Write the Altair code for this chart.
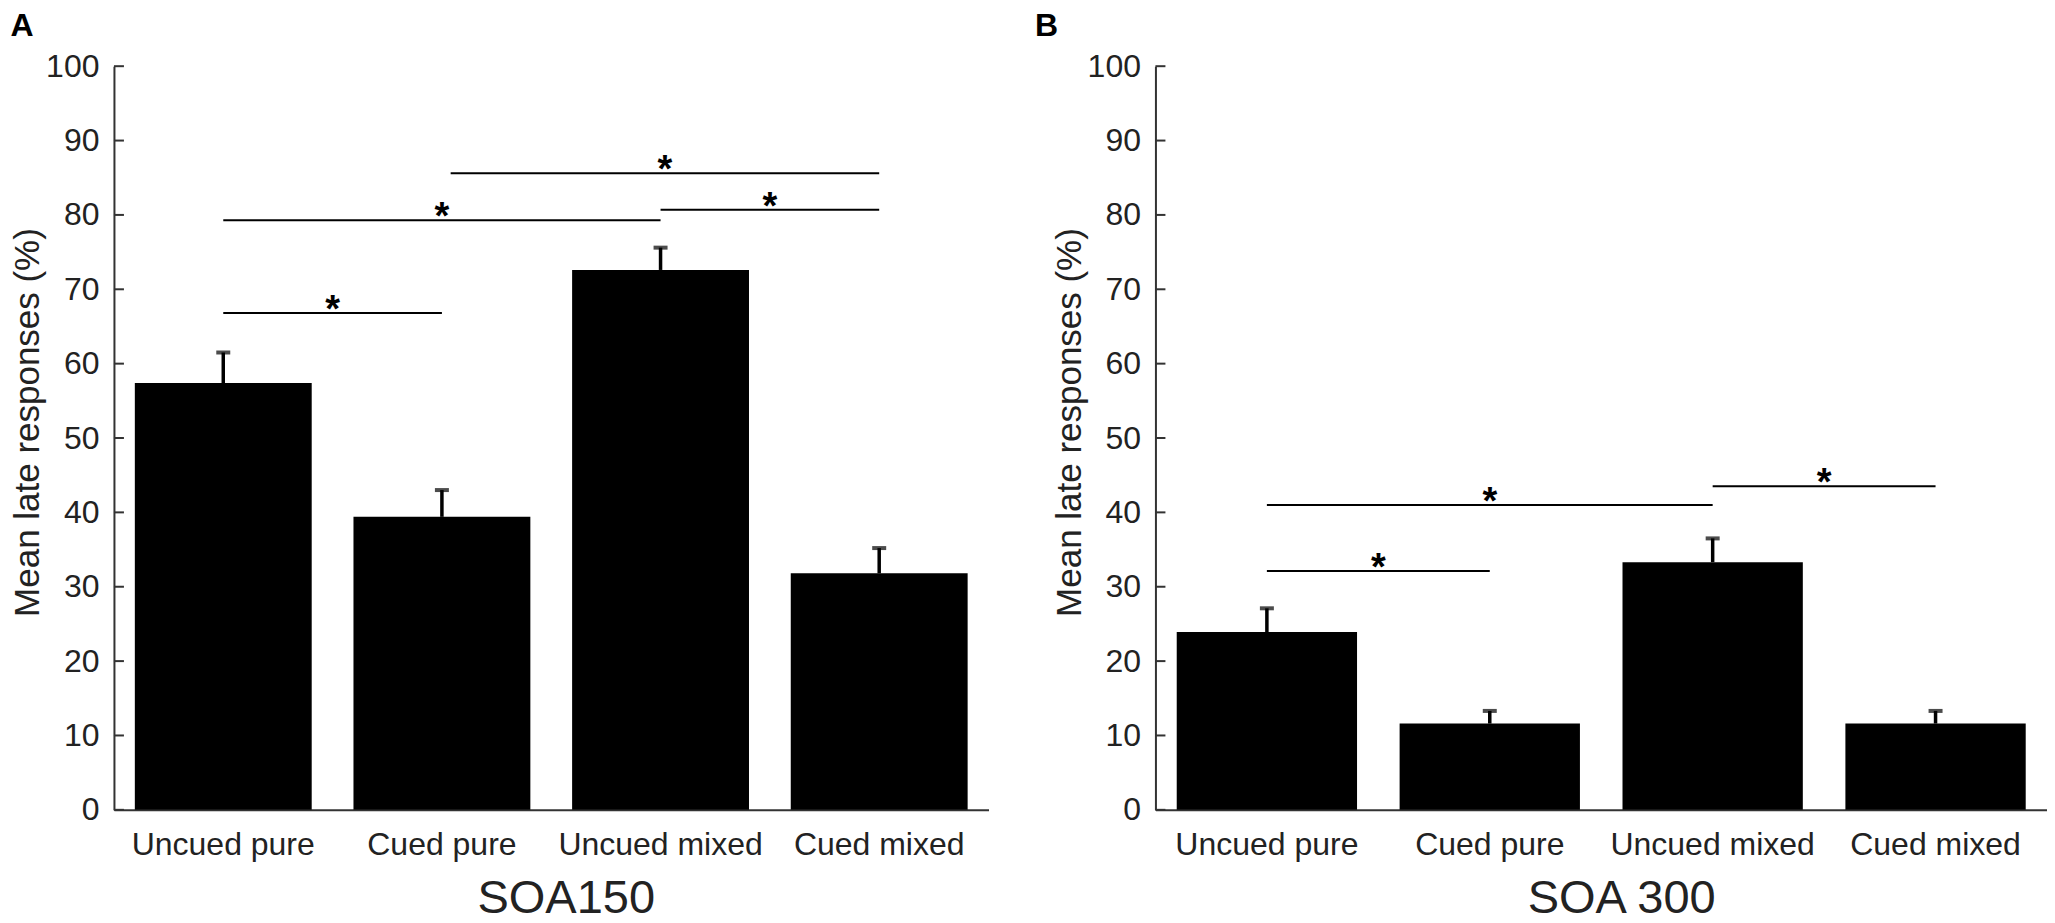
import altair as alt
import pandas as pd

FONT = "Liberation Sans"

categories = ["Uncued pure", "Cued pure", "Uncued mixed", "Cued mixed"]
y_ticks = [0, 10, 20, 30, 40, 50, 60, 70, 80, 90, 100]

# SOA150 panel
soa150_mean = [57.4, 39.4, 72.6, 31.8]
soa150_upper = [61.5, 43.0, 75.6, 35.2]
soa150_sig_from = [0, 0, 1.04, 2]
soa150_sig_to = [1, 2, 3, 3]
soa150_sig_level = [66.8, 79.3, 85.6, 80.7]

# SOA 300 panel
soa300_mean = [23.9, 11.6, 33.3, 11.6]
soa300_upper = [27.1, 13.3, 36.5, 13.3]
soa300_sig_from = [0, 0, 2]
soa300_sig_to = [1, 2, 3]
soa300_sig_level = [32.1, 41.0, 43.5]

YTITLE = "Mean late responses (%)"


def panel(mean, upper, s_from, s_to, s_level, xtitle, letter, width, title_x, letter_dx):
    bars_df = pd.DataFrame({"cat": categories, "mean": mean, "upper": upper})
    sig_df = pd.DataFrame({"a": s_from, "b": s_to, "lvl": s_level})
    sig_df["mid"] = (sig_df["a"] + sig_df["b"]) / 2
    ticks_df = pd.DataFrame({"t": y_ticks})

    yscale = alt.Scale(domain=[0, 100], nice=False)
    yaxis = alt.Axis(
        values=y_ticks, ticks=False, grid=False,
        domainColor="#333", domainWidth=2,
        labelFont=FONT, labelFontSize=32, labelColor="#222", labelPadding=15,
        titleFont=FONT, titleFontSize=35, titleFontWeight="normal", titleColor="#222",
        titleY=356, titlePadding=0,
    )
    xscale = alt.Scale(paddingInner=0.191, paddingOuter=0.0955)
    xaxis = alt.Axis(
        labelAngle=0, ticks=False, grid=False, labelLimit=0,
        domainColor="#333", domainWidth=2,
        labelFont=FONT, labelFontSize=32, labelColor="#222", labelPadding=20,
        titleFont=FONT, titleFontSize=47, titleFontWeight="normal", titleColor="#222",
        titleX=title_x, titlePadding=15,
    )
    xenc = alt.X("cat:N", sort=categories, scale=xscale, axis=xaxis, title=xtitle)

    bars = alt.Chart(bars_df).mark_bar(color="black").encode(
        x=xenc, y=alt.Y("mean:Q", scale=yscale, axis=yaxis, title=YTITLE)
    )
    err = alt.Chart(bars_df).mark_rule(color="black", strokeWidth=3.5).encode(
        x=xenc, y=alt.Y("mean:Q", title=YTITLE), y2="upper:Q"
    )
    caps = alt.Chart(bars_df).mark_tick(color="black", size=14, thickness=4).encode(
        x=xenc, y=alt.Y("upper:Q", title=YTITLE)
    )
    inticks = alt.Chart(ticks_df).mark_rule(color="#333", strokeWidth=2).encode(
        x=alt.value(0), x2=alt.value(10), y=alt.Y("t:Q", title=YTITLE)
    )
    band_layer = alt.layer(bars, err, caps, inticks)

    qx = alt.Scale(domain=[-0.5, 3.5], nice=False, zero=False)
    sig = alt.Chart(sig_df).mark_rule(color="black", strokeWidth=2).encode(
        x=alt.X("a:Q", scale=qx, axis=None), x2="b:Q", y=alt.Y("lvl:Q", title=YTITLE)
    )
    stars = alt.Chart(sig_df).mark_text(
        text="*", font=FONT, fontSize=38, fontWeight="bold", color="black",
        baseline="alphabetic", dy=9
    ).encode(x=alt.X("mid:Q", scale=qx, axis=None), y=alt.Y("lvl:Q", title=YTITLE))
    q_layer = alt.layer(sig, stars)

    return alt.layer(band_layer, q_layer).resolve_scale(x="independent").properties(
        width=width, height=744,
        title=alt.TitleParams(
            letter, anchor="start", frame="bounds", font=FONT, fontSize=32,
            fontWeight="bold", color="black", baseline="alphabetic", offset=-18, dx=letter_dx,
        ),
    )


left = panel(soa150_mean, soa150_upper, soa150_sig_from, soa150_sig_to, soa150_sig_level,
             "SOA150", "A", 875, 452, 0)
right = panel(soa300_mean, soa300_upper, soa300_sig_from, soa300_sig_to, soa300_sig_level,
              "SOA 300", "B", 892, 466, -17)

chart = alt.hconcat(left, right, spacing=46).configure_view(stroke=None).properties(
    padding={"left": 2, "top": 2, "right": 0, "bottom": 0}, background="white"
)

chart.save("out.html", embed_options={"renderer": "svg", "actions": False})
